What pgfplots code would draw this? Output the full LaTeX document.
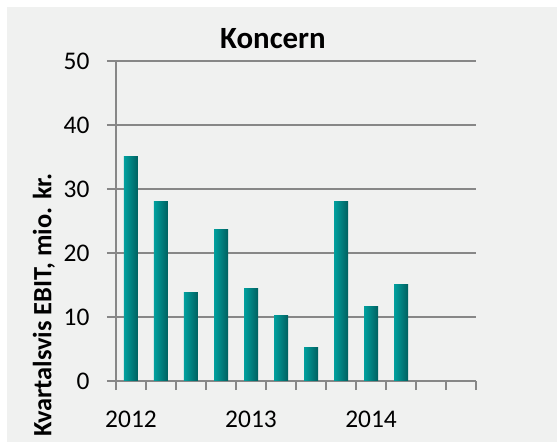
\documentclass[border=0pt]{standalone}
\usepackage{fontspec}
\setmainfont{Carlito}
\usepackage{pgfplots}
\pgfplotsset{compat=1.18}
\definecolor{bg}{RGB}{240,241,240}
\definecolor{gridc}{RGB}{135,135,135}
\definecolor{tealL}{RGB}{0,160,158}
\definecolor{tealD}{RGB}{0,96,96}
\pgfplotsset{qbar/.style={ybar, bar width=14bp, draw=none, left color=tealL, right color=tealD}}
\begin{document}
\begin{tikzpicture}
\fill[white] (-116bp,-61bp) rectangle (441bp,381bp);
\fill[bg] (-109bp,-61bp) rectangle (441bp,374bp);
\begin{axis}[
  at={(0,0)}, anchor=south west,
  scale only axis, width=360bp, height=320bp,
  xmin=0, xmax=12, ymin=0, ymax=50,
  axis lines=left, axis line style={-, gridc, line width=1.6bp},
  xtick={0,...,12}, xticklabels={},
  ytick={0,10,...,50},
  ymajorgrids, grid style={gridc, line width=1.6bp},
  tick style={gridc, line width=1.6bp},
  major tick length=9bp, tick align=outside,
  extra x ticks={0.5,4.5,8.5}, extra x tick labels={2012,2013,2014},
  extra x tick style={major tick length=0pt, grid=none},
  /pgf/number format/assume math mode=true,
  tick label style={font=\fontsize{25.5}{30}\selectfont, text=black},
  yticklabel style={xshift=-14bp},
  xticklabel style={yshift=-26bp},
  ylabel={Kvartalsvis EBIT, mio. kr.},
  ylabel style={at={(axis description cs:-0.2,0.2375)}, anchor=center, font=\bfseries\fontsize{26.5}{30}\selectfont},
  title={Koncern},
  title style={at={(axis description cs:0.436,1.05)}, anchor=center, font=\bfseries\fontsize{31}{36}\selectfont},
  clip=false,
]
\addplot[qbar] coordinates {(0.5,35.1)};
\addplot[qbar] coordinates {(1.5,28.1)};
\addplot[qbar] coordinates {(2.5,13.8)};
\addplot[qbar] coordinates {(3.5,23.7)};
\addplot[qbar] coordinates {(4.5,14.4)};
\addplot[qbar] coordinates {(5.5,10.3)};
\addplot[qbar] coordinates {(6.5,5.3)};
\addplot[qbar] coordinates {(7.5,28.0)};
\addplot[qbar] coordinates {(8.5,11.7)};
\addplot[qbar] coordinates {(9.5,15.0)};
\end{axis}
\pgfresetboundingbox
\path (-116bp,-61bp) rectangle (441bp,381bp);
\end{tikzpicture}
\end{document}
